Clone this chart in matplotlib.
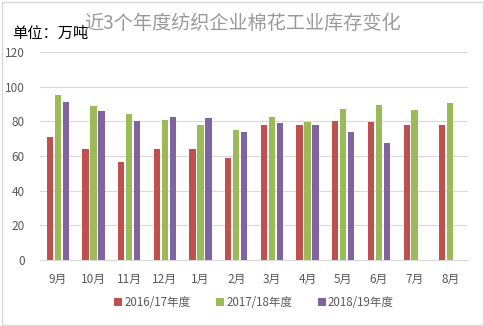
import numpy as np
import matplotlib
matplotlib.use("Agg")
import matplotlib.pyplot as plt
from matplotlib.patches import Rectangle

plt.rcParams['font.family'] = ['Noto Sans CJK SC', 'DejaVu Sans']

months = ["9月", "10月", "11月", "12月", "1月", "2月", "3月", "4月", "5月", "6月", "7月", "8月"]
y1617 = [71, 64, 56.3, 64, 64, 58.6, 78.2, 78.2, 80.5, 79.9, 78.2, 78.2]
y1718 = [95, 89.1, 84.5, 81, 78.2, 75.3, 82.8, 79.9, 87.4, 89.7, 86.8, 90.8]
y1819 = [91.5, 86.2, 80.5, 82.8, 82.2, 74.1, 79.3, 78.2, 74.1, 67.8]
labels = ["2016/17年度", "2017/18年度", "2018/19年度"]
colors = ["#C0504D", "#9BBB59", "#8064A2"]

fig = plt.figure(figsize=(4.85, 3.26), dpi=100)
ax = fig.add_axes([0.0825, 0.2025, 0.8825, 0.6375])

x = np.arange(len(months))
w = 0.17
step = 0.224
for i, (vals, lab, c) in enumerate(zip([y1617, y1718, y1819], labels, colors)):
    xs = x[:len(vals)] + (i - 1) * step
    ax.bar(xs, vals, width=w, color=c, label=lab, zorder=3)

ax.set_xlim(-0.5, len(months) - 0.5)
ax.set_ylim(0, 120)
ax.set_yticks(range(0, 121, 20))
ax.set_xticks(x)
ax.set_xticklabels(months)
ax.grid(axis="y", color="#D9D9D9", linewidth=0.8, zorder=0)
for s in ["top", "right", "left"]:
    ax.spines[s].set_visible(False)
ax.spines["bottom"].set_color("#D9D9D9")
ax.tick_params(length=0, colors="#595959", labelsize=8.5)
ax.tick_params(axis="x", pad=9)
ax.tick_params(axis="y", pad=11)

fig.text(0.5, 0.928, "近3个年度纺织企业棉花工业库存变化", ha="center", va="center",
         fontsize=13.8, color="#9A9A9A")
fig.text(0.025, 0.898, "单位：万吨", ha="left", va="center", fontsize=11, color="black")

ax.legend(loc="upper center", bbox_to_anchor=(0.5, -0.125), ncol=3, frameon=False,
          fontsize=8.3, labelcolor="#595959", handlelength=0.7, handleheight=0.7,
          handletextpad=0.2, columnspacing=2.2)

fig.patches.append(Rectangle((0.004, 0.004), 0.992, 0.99, transform=fig.transFigure,
                             fill=False, edgecolor="#D9D9D9", linewidth=1))

fig.savefig("out.png", dpi=100)
